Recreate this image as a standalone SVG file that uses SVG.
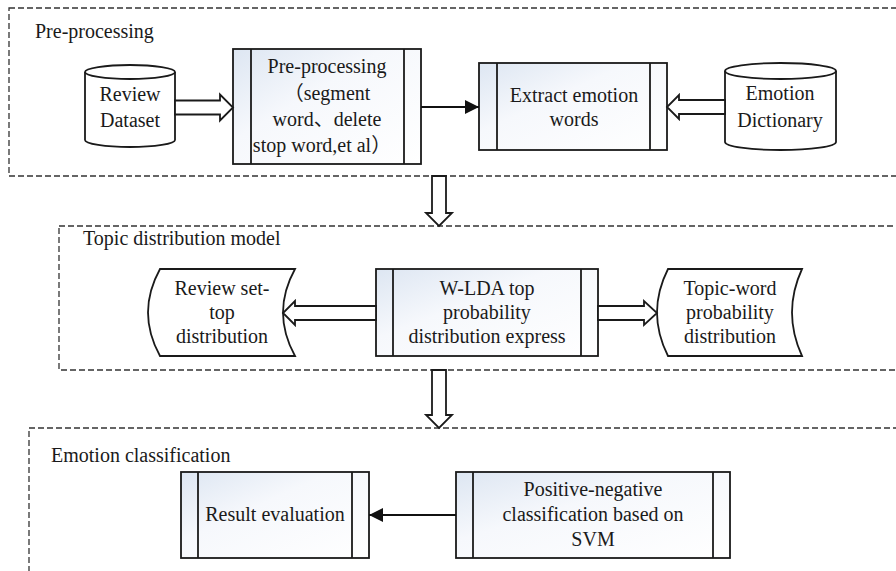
<svg xmlns="http://www.w3.org/2000/svg" width="896" height="571" viewBox="0 0 896 571">
<defs>
<linearGradient id="g" x1="0" y1="0" x2="1" y2="1">
<stop offset="0" stop-color="#dde6f2"/>
<stop offset="0.4" stop-color="#f6f8fc"/>
<stop offset="1" stop-color="#ffffff"/>
</linearGradient>
<marker id="ah" markerWidth="14" markerHeight="14" refX="14" refY="7" orient="auto" markerUnits="userSpaceOnUse">
<path d="M0,0 L14,7 L0,14 Z" fill="#111"/>
</marker>
<style>
text{font-family:"Liberation Serif","Noto Sans CJK SC",serif;font-size:20px;fill:#1a1a1a}
.c{text-anchor:middle}
.box{fill:url(#g);stroke:#1a1a1a;stroke-width:1.8}
.ln{fill:none;stroke:#1a1a1a;stroke-width:1.8}
.shape{fill:#fff;stroke:#1a1a1a;stroke-width:1.8}
.grp{fill:none;stroke:#333;stroke-width:1.3;stroke-dasharray:6 3}
.hol{fill:#fff;stroke:#1a1a1a;stroke-width:1.8;stroke-linejoin:miter}
.sol{fill:none;stroke:#111;stroke-width:2}
</style>
</defs>
<rect width="896" height="571" fill="#fff"/>

<g id="group-preprocessing">
<rect class="grp" x="9" y="8" width="900" height="168"/>
<text x="35" y="38">Pre-processing</text>
</g>
<g id="group-topic">
<rect class="grp" x="59" y="226" width="850" height="144"/>
<text x="83" y="245">Topic distribution model</text>
</g>
<g id="group-emotion">
<rect class="grp" x="29" y="428" width="880" height="200"/>
<text x="51" y="462">Emotion classification</text>
</g>

<g id="review-dataset">
<path class="shape" d="M85,72 A45,7 0 0 1 175,72 V140 A45,7 0 0 1 85,140 Z"/>
<path class="ln" d="M85,72 A45,7 0 0 0 175,72"/>
<text class="c" x="130" y="101">Review</text>
<text class="c" x="130" y="127">Dataset</text>
</g>

<g id="preprocessing-box">
<rect class="box" x="233" y="49" width="188" height="115"/>
<line class="ln" x1="251" y1="49" x2="251" y2="164"/>
<line class="ln" x1="404" y1="49" x2="404" y2="164"/>
<text class="c" x="327" y="73">Pre-processing</text>
<text class="c" x="327" y="100">（segment</text>
<text class="c" x="327" y="126">word、delete</text>
<text class="c" x="322" y="152">stop word,et al）</text>
</g>

<g id="extract-box">
<rect class="box" x="479" y="63" width="188" height="87"/>
<line class="ln" x1="497" y1="63" x2="497" y2="150"/>
<line class="ln" x1="650" y1="63" x2="650" y2="150"/>
<text class="c" x="574" y="102">Extract emotion</text>
<text class="c" x="574" y="126">words</text>
</g>

<g id="emotion-dictionary">
<path class="shape" d="M725,71 A55.5,8 0 0 1 836,71 V142 A55.5,8 0 0 1 725,142 Z"/>
<path class="ln" d="M725,71 A55.5,8 0 0 0 836,71"/>
<text class="c" x="780" y="100">Emotion</text>
<text class="c" x="780" y="127">Dictionary</text>
</g>

<g id="review-set-top">
<path class="shape" d="M160,269 L295,269 Q271,312.5 295,356 L160,356 Q136,312.5 160,269 Z"/>
<text class="c" x="222" y="295">Review set-</text>
<text class="c" x="222" y="319">top</text>
<text class="c" x="222" y="343">distribution</text>
</g>

<g id="wlda-box">
<rect class="box" x="376" y="269" width="222" height="87"/>
<line class="ln" x1="393" y1="269" x2="393" y2="356"/>
<line class="ln" x1="581" y1="269" x2="581" y2="356"/>
<text class="c" x="487" y="295">W-LDA top</text>
<text class="c" x="487" y="319">probability</text>
<text class="c" x="487" y="343">distribution express</text>
</g>

<g id="topic-word">
<path class="shape" d="M668,269 L802,269 Q782,312.5 802,356 L668,356 Q646,312.5 668,269 Z"/>
<text class="c" x="730" y="295">Topic-word</text>
<text class="c" x="730" y="319">probability</text>
<text class="c" x="730" y="343">distribution</text>
</g>

<g id="result-box">
<rect class="box" x="181" y="472" width="188" height="86"/>
<line class="ln" x1="198" y1="472" x2="198" y2="558"/>
<line class="ln" x1="352" y1="472" x2="352" y2="558"/>
<text class="c" x="275" y="521">Result evaluation</text>
</g>

<g id="svm-box">
<rect class="box" x="456" y="472" width="274" height="86"/>
<line class="ln" x1="473" y1="472" x2="473" y2="558"/>
<line class="ln" x1="713" y1="472" x2="713" y2="558"/>
<text class="c" x="593" y="496">Positive-negative</text>
<text class="c" x="593" y="521">classification based on</text>
<text class="c" x="593" y="546">SVM</text>
</g>

<g id="connectors">
<polygon class="hol" points="175,100.5 220,100.5 220,94.5 233,107.5 220,120.5 220,114.5 175,114.5"/>
<line class="sol" x1="421" y1="107" x2="479" y2="107" marker-end="url(#ah)"/>
<polygon class="hol" points="725,100 679,100 679,95 667,107 679,119 679,114 725,114"/>
<polygon class="hol" points="432,176 446,176 446,213 452,213 439,226 426,213 432,213"/>
<polygon class="hol" points="376,306 295,306 295,301 283,313 295,325 295,320 376,320"/>
<polygon class="hol" points="598,306 644,306 644,301 657,313 644,325 644,320 598,320"/>
<polygon class="hol" points="432,370 446,370 446,415 452,415 439,428 426,415 432,415"/>
<line class="sol" x1="456" y1="515" x2="369" y2="515" marker-end="url(#ah)"/>
</g>
</svg>
